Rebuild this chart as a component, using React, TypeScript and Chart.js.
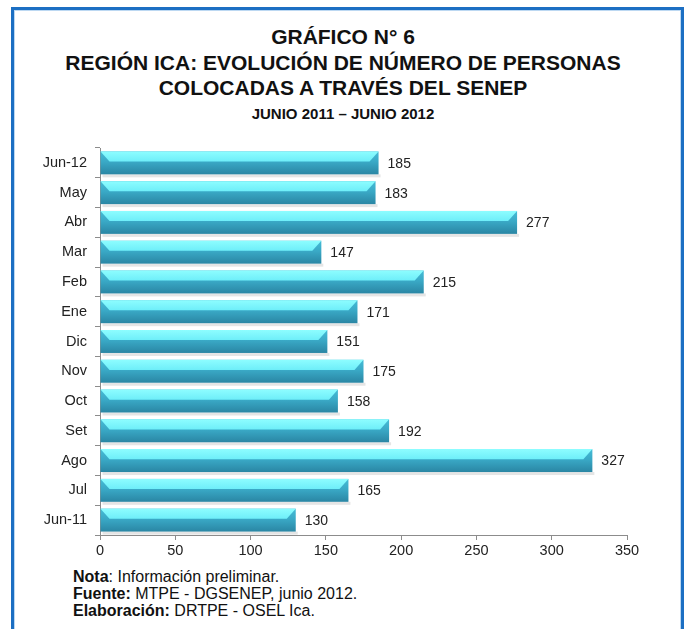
import React, { useEffect, useRef } from "react";
import { Chart, registerables } from "chart.js";

Chart.register(...registerables);

const categories = ["Jun-11", "Jul", "Ago", "Set", "Oct", "Nov", "Dic", "Ene", "Feb", "Mar", "Abr", "May", "Jun-12"];
const personas = [130, 165, 327, 192, 158, 175, 151, 171, 215, 147, 277, 183, 185];
const xTicks = [0, 50, 100, 150, 200, 250, 300, 350];

const titleLines = ["GRÁFICO N° 6", "REGIÓN ICA: EVOLUCIÓN DE NÚMERO DE PERSONAS", "COLOCADAS A TRAVÉS DEL SENEP"];
const subtitle = "JUNIO 2011 – JUNIO 2012";

const FONT = "'Liberation Sans', Arial, sans-serif";

const bar3d = {
  id: "bar3d",
  afterDatasetsDraw(chart: any) {
    const ctx = chart.ctx;
    const meta = chart.getDatasetMeta(0);
    ctx.save();
    meta.data.forEach((el: any, i: number) => {
      const { x, y, base, height } = el.getProps(["x", "y", "base", "height"], true);
      const top = y - height / 2;
      const bot = y + height / 2;
      const x0 = Math.min(base, x);
      const x1 = Math.max(base, x);
      // shadow
      ctx.fillStyle = "rgba(0,0,0,0.10)";
      ctx.fillRect(x0 + 2, bot, x1 - x0, 3);
      // front face
      const g = ctx.createLinearGradient(0, top, 0, bot);
      g.addColorStop(0, "#45bcd6");
      g.addColorStop(0.45, "#3aa9c6");
      g.addColorStop(1, "#2a86a4");
      ctx.fillStyle = g;
      ctx.fillRect(x0, top, x1 - x0, height);
      // top face
      const lh = height * 0.44;
      const bev = Math.min(9, (x1 - x0) / 2);
      const g2 = ctx.createLinearGradient(0, top, 0, top + lh);
      g2.addColorStop(0, "#8dfdff");
      g2.addColorStop(1, "#6eeef9");
      ctx.fillStyle = g2;
      ctx.beginPath();
      ctx.moveTo(x0, top);
      ctx.lineTo(x1, top);
      ctx.lineTo(x1 - bev, top + lh);
      ctx.lineTo(x0 + bev, top + lh);
      ctx.closePath();
      ctx.fill();
      // value label
      ctx.fillStyle = "#222";
      ctx.font = `14px ${FONT}`;
      ctx.textAlign = "left";
      ctx.textBaseline = "middle";
      ctx.fillText(String(personas[i]), x1 + 9, y + 1);
    });
    ctx.restore();
  },
};

export default function App() {
  const ref = useRef<HTMLCanvasElement>(null);
  useEffect(() => {
    if (!ref.current) return;
    const chart = new Chart(ref.current, {
      type: "bar",
      data: {
        labels: categories,
        datasets: [
          {
            data: personas,
            backgroundColor: "rgba(0,0,0,0)",
            borderWidth: 0,
            barPercentage: 0.77,
            categoryPercentage: 1,
          },
        ],
      },
      options: {
        indexAxis: "y",
        animation: false,
        responsive: false,
        maintainAspectRatio: false,
        layout: { padding: { left: 0, right: 59, top: 18, bottom: 0 } },
        plugins: { legend: { display: false }, tooltip: { enabled: false }, title: { display: false } },
        scales: {
          x: {
            min: 0,
            max: 350,
            afterBuildTicks: (s: any) => {
              s.ticks = xTicks.map((v) => ({ value: v }));
            },
            afterFit: (s: any) => {
              s.height = 25;
            },
            grid: { drawOnChartArea: false, drawTicks: true, tickLength: 5, color: "#8c8c8c" },
            border: { display: true, color: "#8c8c8c" },
            ticks: { color: "#222", font: { family: FONT, size: 14.5 }, padding: 2 },
          },
          y: {
            reverse: true,
            afterFit: (s: any) => {
              s.width = 100;
            },
            grid: { drawOnChartArea: false, drawTicks: true, tickLength: 5, color: "#8c8c8c", offset: true },
            border: { display: true, color: "#8c8c8c" },
            ticks: { color: "#222", font: { family: FONT, size: 14.5 }, padding: 8 },
          },
        },
      },
      plugins: [bar3d],
    } as any);
    return () => chart.destroy();
  }, []);

  return (
    <div style={{ position: "absolute", left: 0, top: 0, width: 686, height: 629, overflow: "hidden", background: "#fff" }}>
      <div
        style={{
          position: "absolute",
          left: 11,
          top: 7,
          width: 673,
          height: 660,
          boxSizing: "border-box",
          border: "3px solid #1c6fc3",
          boxShadow: "inset 0 0 0 1px #bcd8f2",
        }}
      />
      <div
        style={{
          position: "absolute",
          left: 0,
          top: 24,
          width: 686,
          textAlign: "center",
          fontFamily: FONT,
          fontWeight: "bold",
          fontSize: 21,
          lineHeight: "25.5px",
          color: "#111",
        }}
      >
        {titleLines.map((t) => (
          <div key={t}>{t}</div>
        ))}
        <div style={{ fontSize: 15, lineHeight: "26px" }}>{subtitle}</div>
      </div>
      <canvas ref={ref} width={686} height={430} style={{ position: "absolute", left: 0, top: 130, width: 686, height: 430 }} />
      <div
        style={{
          position: "absolute",
          left: 73,
          top: 568,
          fontFamily: FONT,
          fontSize: 16,
          lineHeight: "17px",
          color: "#111",
        }}
      >
        <div>
          <b>Nota</b>: Información preliminar.
        </div>
        <div>
          <b>Fuente:</b> MTPE - DGSENEP, junio 2012.
        </div>
        <div>
          <b>Elaboración:</b> DRTPE - OSEL Ica.
        </div>
      </div>
    </div>
  );
}
